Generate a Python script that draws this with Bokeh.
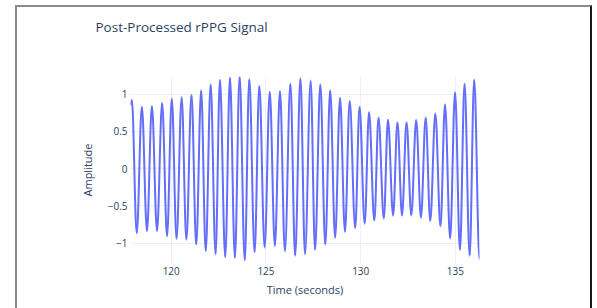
import numpy as np
from bokeh.plotting import figure
from bokeh.models import Range1d, FixedTicker, Span, Title
from bokeh.embed import file_html
from bokeh.resources import INLINE

title_text = "Post-Processed rPPG Signal"
x_label = "Time (seconds)"
y_label = "Amplitude"
x_ticks = [120, 125, 130, 135]
x_tick_labels = ["120", "125", "130", "135"]
y_ticks = [-1, -0.5, 0, 0.5, 1]
y_tick_labels = ["\u22121", "\u22120.5", "0", "0.5", "1"]

start_time = 117.85
start_value = 0.85
end_time = 136.27

peak_time = [117.92, 118.45, 118.98, 119.52, 120.03, 120.55, 121.07, 121.58,
             122.08, 122.57, 123.10, 123.61, 124.12, 124.65, 125.20, 125.74,
             126.29, 126.82, 127.36, 127.87, 128.39, 128.91, 129.42, 129.94,
             130.44, 130.94, 131.44, 131.94, 132.42, 132.93, 133.43, 133.94,
             134.45, 134.98, 135.48, 135.99]
peak_value = [0.92, 0.83, 0.84, 0.88, 0.94, 0.955, 0.99, 1.05,
              1.13, 1.19, 1.22, 1.235, 1.20, 1.11, 1.03, 1.04,
              1.14, 1.21, 1.18, 1.13, 1.05, 0.95, 0.905, 0.83,
              0.755, 0.685, 0.655, 0.62, 0.62, 0.65, 0.685, 0.74,
              0.86, 1.025, 1.14, 1.195]
trough_time = [118.18, 118.72, 119.25, 119.78, 120.28, 120.80, 121.32, 121.82,
               122.34, 122.85, 123.36, 123.88, 124.40, 124.93, 125.47, 126.00,
               126.54, 127.06, 127.59, 128.13, 128.65, 129.17, 129.71, 130.21,
               130.72, 131.22, 131.71, 132.18, 132.67, 133.18, 133.67, 134.21,
               134.72, 135.24, 135.75, 136.27]
trough_value = [-0.87, -0.84, -0.84, -0.91, -0.945, -0.955, -1.02, -1.11,
                -1.15, -1.19, -1.20, -1.23, -1.125, -1.06, -1.04, -1.11,
                -1.17, -1.15, -1.09, -1.02, -0.93, -0.85, -0.80, -0.74,
                -0.70, -0.67, -0.63, -0.63, -0.63, -0.66, -0.705, -0.775,
                -0.94, -1.095, -1.17, -1.22]

# ordered extrema of the signal
t_all = np.array([start_time] + peak_time + trough_time)
v_all = np.array([start_value] + peak_value + trough_value)
order = np.argsort(t_all)
t_all = t_all[order]
v_all = v_all[order]

TEXT = "#2a3f5f"
GRID = "#EBF0F8"
FONT = "Open Sans"

p = figure(width=577, height=303, output_backend="svg", toolbar_location=None,
           x_range=Range1d(start_time, end_time), y_range=Range1d(-1.275, 1.235),
           min_border_left=113, min_border_right=115, min_border_top=69,
           min_border_bottom=47, margin=(5, 0, 0, 15),
           styles={"border-left": "2px solid #8a8a8a",
                   "border-top": "2px solid #8a8a8a",
                   "border-right": "2px solid #1a1a1a"})
p.outline_line_color = None
p.background_fill_color = "white"
p.border_fill_color = "white"
p.title.text = ""

# spacer between the frame and the title (added first: closest to the frame)
p.add_layout(Title(text=" ", text_font_size="2px", standoff=26,
                   text_color="white"), "above")
# the chart title (added second: further out)
p.add_layout(Title(text=title_text, align="left", vertical_align="top",
                   offset=-35, standoff=18, text_font=FONT,
                   text_font_size="13.5px", text_font_style="normal",
                   text_color=TEXT), "above")

p.xgrid.grid_line_color = GRID
p.ygrid.grid_line_color = GRID
p.xgrid.grid_line_width = 1
p.ygrid.grid_line_width = 1
p.add_layout(Span(location=0, dimension="width", line_color=GRID, line_width=2,
                  level="underlay"))

# smooth curve through the read extrema (horizontal tangents at each extremum)
x0 = t_all[:-1]
x1 = t_all[1:]
y0 = v_all[:-1]
y1 = v_all[1:]
dx = x1 - x0
k = 0.3642
p.bezier(x0=x0, y0=y0, x1=x1, y1=y1, cx0=x0 + k * dx, cy0=y0,
         cx1=x1 - k * dx, cy1=y1, line_color="#636efa", line_width=2)

for ax in (p.xaxis[0], p.yaxis[0]):
    ax.axis_line_color = None
    ax.major_tick_line_color = None
    ax.minor_tick_line_color = None
    ax.major_tick_out = 0
    ax.major_label_text_font = FONT
    ax.major_label_text_font_size = "10px"
    ax.major_label_text_color = TEXT
    ax.axis_label_text_font = FONT
    ax.axis_label_text_font_size = "11px"
    ax.axis_label_text_font_style = "normal"
    ax.axis_label_text_color = TEXT

p.xaxis.ticker = FixedTicker(ticks=x_ticks)
p.xaxis.major_label_overrides = dict(zip(x_ticks, x_tick_labels))
p.yaxis.ticker = FixedTicker(ticks=y_ticks)
p.yaxis.major_label_overrides = dict(zip(y_ticks, y_tick_labels))
p.xaxis.axis_label = x_label
p.yaxis.axis_label = y_label
p.xaxis.major_label_standoff = 3
p.xaxis.axis_label_standoff = 4
p.yaxis.major_label_standoff = 3
p.yaxis.axis_label_standoff = 10

open("out.html", "w").write(file_html(p, INLINE))
